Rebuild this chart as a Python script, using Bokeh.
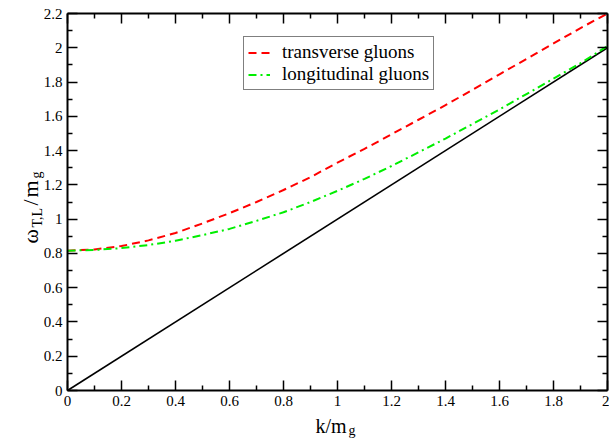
import math
from bokeh.plotting import figure
from bokeh.models import (Range1d, LinearAxis, FixedTicker, Legend, LegendItem, Label)
from bokeh.embed import file_html
from bokeh.resources import INLINE

# ---- data ----
k_vals = [0.0, 0.1, 0.2, 0.3, 0.4, 0.5, 0.6, 0.7, 0.8, 0.9, 1.0,
          1.1, 1.2, 1.3, 1.4, 1.5, 1.6, 1.7, 1.8, 1.9, 2.0]
omega_T = [0.816, 0.823, 0.843, 0.876, 0.919, 0.975, 1.035, 1.100, 1.170, 1.245, 1.330,
           1.410, 1.495, 1.580, 1.665, 1.755, 1.845, 1.935, 2.025, 2.115, 2.200]
omega_L = [0.816, 0.820, 0.831, 0.849, 0.874, 0.907, 0.943, 0.990, 1.040, 1.100, 1.165,
           1.235, 1.310, 1.390, 1.470, 1.555, 1.640, 1.730, 1.820, 1.910, 2.010]
light_k = [0.0, 2.0]
light_w = [0.0, 2.0]

x_major = [0.0, 0.2, 0.4, 0.6, 0.8, 1.0, 1.2, 1.4, 1.6, 1.8, 2.0]
x_minor = [0.1, 0.3, 0.5, 0.7, 0.9, 1.1, 1.3, 1.5, 1.7, 1.9]
y_major = [0.0, 0.2, 0.4, 0.6, 0.8, 1.0, 1.2, 1.4, 1.6, 1.8, 2.0, 2.2]
y_minor = [0.1, 0.3, 0.5, 0.7, 0.9, 1.1, 1.3, 1.5, 1.7, 1.9, 2.1]

legend_labels = ["transverse gluons", "longitudinal gluons"]
x_label_main, x_label_sub = "k/m", "g"

# ---- layout (pixels) ----
W, H = 609, 438
PX_L, PX_R, PX_T, PX_B = 67, 607, 13, 390   # where the axes box sits
XMIN, XMAX, YMIN, YMAX = 0.0, 2.0, 0.0, 2.2
sx = (PX_R - PX_L) / (XMAX - XMIN)
sy = (PX_B - PX_T) / (YMAX - YMIN)
SERIF = "Liberation Serif"

p = figure(width=W, height=H,
           x_range=Range1d(XMIN - PX_L / sx, XMAX + (W - PX_R) / sx),
           y_range=Range1d(YMIN - (H - PX_B) / sy, YMAX + PX_T / sy),
           output_backend="svg", toolbar_location=None,
           min_border_left=0, min_border_right=0, min_border_top=0,
           min_border_bottom=0)
p.title.visible = False
p.outline_line_color = None
p.xgrid.visible = False
p.ygrid.visible = False


def style_axis(ax, major, minor, bounds, loc, show_labels=True):
    ax.ticker = FixedTicker(ticks=major, minor_ticks=minor)
    ax.bounds = bounds
    ax.fixed_location = loc
    ax.axis_line_width = 2
    ax.axis_line_color = "black"
    ax.major_tick_in = 10
    ax.major_tick_out = 0
    ax.minor_tick_in = 5
    ax.minor_tick_out = 0
    ax.major_tick_line_width = 1.5
    ax.minor_tick_line_width = 1.5
    ax.major_tick_line_color = "black"
    ax.minor_tick_line_color = "black"
    ax.major_label_text_font = SERIF
    ax.major_label_text_font_size = "15px"
    ax.major_label_standoff = 5
    ax.major_label_text_color = "black" if show_labels else None


style_axis(p.xaxis[0], x_major, x_minor, (XMIN, XMAX), YMIN)
style_axis(p.yaxis[0], y_major, y_minor, (YMIN, YMAX), XMIN)
top_axis = LinearAxis()
right_axis = LinearAxis()
style_axis(top_axis, x_major, x_minor, (XMIN, XMAX), YMAX, False)
style_axis(right_axis, y_major, y_minor, (YMIN, YMAX), XMAX, False)
p.add_layout(top_axis, "above")
p.add_layout(right_axis, "right")

r_light = p.line(light_k, light_w, line_color="black", line_width=1.6)
r_T = p.line(k_vals, omega_T, line_color="#ff0000", line_width=2, line_dash="8 5")
r_L = p.line(k_vals, omega_L, line_color="#00ee00", line_width=2, line_dash="8 4 2 4")

legend = Legend(items=[LegendItem(label=legend_labels[0], renderers=[r_T]),
                       LegendItem(label=legend_labels[1], renderers=[r_L])],
                location=(243, 348))
legend.label_text_font = SERIF
legend.label_text_font_size = "19px"
legend.label_text_color = "black"
legend.border_line_color = "black"
legend.border_line_width = 1
legend.background_fill_color = "white"
legend.background_fill_alpha = 1
legend.label_standoff = 12
legend.glyph_width = 22
legend.glyph_height = 19
legend.label_height = 19
legend.padding = 4
legend.spacing = 0
legend.margin = 0
p.add_layout(legend, "center")


def dx(px):
    return XMIN + (px - PX_L) / sx


def dy(py):
    return YMIN + (PX_B - py) / sy


def add_text(txt, px, py, size, angle=0.0):
    p.add_layout(Label(x=dx(px), y=dy(py), text=txt, angle=angle,
                       text_font=SERIF, text_font_size=size,
                       text_align="left", text_baseline="alphabetic",
                       text_color="black"))


# x-axis label: k/m with subscript g
add_text(x_label_main, 315, 425, "20px")
add_text(x_label_sub, 348, 430, "14px")

# y-axis label: omega_{T,L}/m_g, rotated to read upwards
rot = math.pi / 2
add_text("ω", 30, 243, "22px", rot)
add_text("T,L", 37, 227, "14px", rot)
add_text("/", 30, 205, "22px", rot)
add_text("m", 30, 197, "22px", rot)
add_text("g", 36, 178, "14px", rot)

open("out.html", "w").write(file_html(p, INLINE))
